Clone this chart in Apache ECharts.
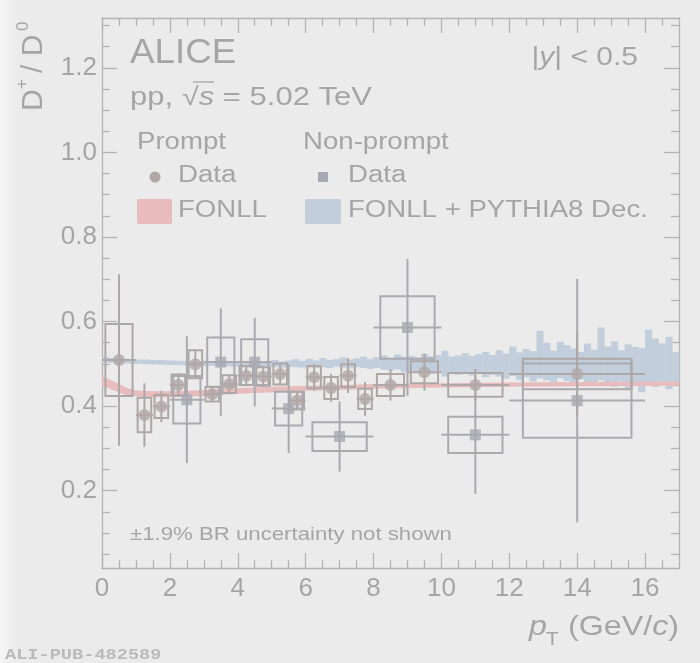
<!DOCTYPE html>
<html><head><meta charset="utf-8">
<script src="https://cdn.jsdelivr.net/npm/echarts@6/dist/echarts.min.js"></script>
<style>html,body{margin:0;padding:0;background:#ebebeb;}#c{width:700px;height:663px;}</style>
</head><body><div id="c"></div>
<script>
// ---------------- data ----------------
const X_MIN = 0, X_MAX = 17, Y_MIN = 0.017, Y_MAX = 1.318;
const xTickLabels = [0, 2, 4, 6, 8, 10, 12, 14, 16];
const yTickLabels = [0.2, 0.4, 0.6, 0.8, 1.0, 1.2];

// Prompt D+/D0
const promptBinLo = [0, 1, 1.5, 2, 2.5, 3, 3.5, 4, 4.5, 5, 5.5, 6, 6.5, 7, 7.5, 8, 9, 10, 12];
const promptBinHi = [1, 1.5, 2, 2.5, 3, 3.5, 4, 4.5, 5, 5.5, 6, 6.5, 7, 7.5, 8, 9, 10, 12, 16];
const promptVal  = [0.509, 0.379, 0.399, 0.450, 0.499, 0.428, 0.452, 0.472, 0.470, 0.476, 0.413, 0.468, 0.443, 0.472, 0.417, 0.450, 0.480, 0.450, 0.476];
const promptStat = [0.203, 0.075, 0.037, 0.028, 0.033, 0.018, 0.023, 0.025, 0.025, 0.026, 0.022, 0.032, 0.033, 0.041, 0.040, 0.037, 0.044, 0.038, 0.100];
const promptSyst = [0.085, 0.041, 0.027, 0.025, 0.033, 0.017, 0.021, 0.022, 0.022, 0.025, 0.021, 0.026, 0.026, 0.027, 0.024, 0.026, 0.026, 0.028, 0.036];

// Non-prompt D+/D0
const npBinLo = [2, 3, 4, 5, 6, 8, 10, 12];
const npBinHi = [3, 4, 5, 6, 8, 10, 12, 16];
const npVal  = [0.415, 0.504, 0.504, 0.394, 0.328, 0.586, 0.332, 0.413];
const npStat = [0.150, 0.127, 0.105, 0.105, 0.083, 0.162, 0.140, 0.288];
const npSyst = [0.056, 0.058, 0.054, 0.040, 0.034, 0.074, 0.043, 0.088];

// FONLL prompt band
const fonllX  = [0, 0.25, 0.5, 0.75, 1.0, 1.5, 2, 3, 4, 5, 6, 7, 8, 10, 12, 14, 17];
const fonllHi = [0.470, 0.462, 0.452, 0.442, 0.437, 0.435, 0.435, 0.438, 0.443, 0.446, 0.448, 0.450, 0.452, 0.454, 0.456, 0.457, 0.458];
const fonllLo = [0.448, 0.440, 0.432, 0.425, 0.423, 0.421, 0.421, 0.424, 0.429, 0.433, 0.436, 0.438, 0.441, 0.444, 0.446, 0.447, 0.448];

// FONLL + PYTHIA8 decayer non-prompt band (0.2 GeV/c bins from 0 to 17)
const npBandBinWidth = 0.2;
const npBandHi = [0.516,0.514,0.512,0.512,0.511,0.510,0.510,0.509,0.509,0.508,
  0.508,0.507,0.507,0.506,0.506,0.507,0.506,0.505,0.506,0.505,
  0.507,0.506,0.508,0.505,0.507,0.509,0.506,0.508,0.511,0.507,
  0.512,0.508,0.514,0.509,0.511,0.515,0.510,0.513,0.517,0.511,
  0.516,0.520,0.514,0.522,0.517,0.519,0.515,0.524,0.518,0.521,
  0.531,0.517,0.520,0.525,0.519,0.523,0.528,0.521,0.532,0.524,
  0.541,0.527,0.535,0.530,0.578,0.550,0.531,0.552,0.544,0.536,
  0.528,0.548,0.533,0.586,0.541,0.553,0.532,0.546,0.540,0.537,
  0.581,0.560,0.548,0.564,0.528];
const npBandLo = [0.503,0.502,0.501,0.501,0.500,0.500,0.499,0.499,0.498,0.498,
  0.497,0.497,0.496,0.496,0.495,0.495,0.495,0.494,0.494,0.493,
  0.494,0.493,0.493,0.492,0.493,0.492,0.491,0.493,0.492,0.491,
  0.493,0.491,0.492,0.490,0.493,0.491,0.489,0.492,0.490,0.488,
  0.490,0.486,0.484,0.487,0.480,0.483,0.478,0.482,0.476,0.481,
  0.470,0.478,0.474,0.480,0.472,0.476,0.468,0.474,0.470,0.465,
  0.471,0.462,0.468,0.458,0.466,0.461,0.455,0.466,0.459,0.452,
  0.463,0.457,0.449,0.461,0.454,0.446,0.458,0.439,0.451,0.433,
  0.455,0.445,0.458,0.440,0.452];

// ---------------- styles ----------------
const FRAME = '#b3b3b3';
const TXT = '#a5a5a5';
const FONT = '"Liberation Sans", Arial, Helvetica, sans-serif';
const C_PROMPT = '#b2a7a7';
const C_NP = '#a8a8b2';
const C_PROMPT_LINE = '#aea7a8';
const C_NP_LINE = '#aaaab1';
const C_RED = '#e8bcbc';
const C_BLUE = '#c2cedb';
const SX = 1.2;

const xMinorTicks = [];
for (let k = 1; k * 0.5 < X_MAX; k++) if (k % 4) xMinorTicks.push(k * 0.5);
const yMinorTicks = [];
for (let k = 1; k * 0.05 < Y_MAX; k++) if (k % 4) yMinorTicks.push(+(k * 0.05).toFixed(2));

function xa(pos, ticks, len, showLabel, showLine) {
  return {type: 'value', min: X_MIN, max: X_MAX, position: pos, gridIndex: 0,
    axisLine: {show: showLine, onZero: false, lineStyle: {color: FRAME, width: 1.3}},
    axisTick: {show: true, inside: true, length: len, customValues: ticks, lineStyle: {color: FRAME, width: 1.3}},
    axisLabel: {show: showLabel, customValues: ticks, color: TXT, fontSize: 26, fontFamily: FONT, margin: 8},
    splitLine: {show: false}};
}
function ya(pos, ticks, len, showLabel, showLine) {
  return {type: 'value', min: Y_MIN, max: Y_MAX, position: pos, gridIndex: 0,
    axisLine: {show: showLine, onZero: false, lineStyle: {color: FRAME, width: 1.3}},
    axisTick: {show: true, inside: true, length: len, customValues: ticks, lineStyle: {color: FRAME, width: 1.3}},
    axisLabel: {show: showLabel, customValues: ticks, color: TXT, fontSize: 26, fontFamily: FONT, margin: 5,
      formatter: v => v.toFixed(1)},
    splitLine: {show: false}};
}

// ---------------- series data ----------------
const promptPts = promptVal.map((v, i) => [(promptBinLo[i] + promptBinHi[i]) / 2, v]);
const npPts = npVal.map((v, i) => [(npBinLo[i] + npBinHi[i]) / 2, v]);
const promptBoxes = promptVal.map((v, i) => [(promptBinLo[i] + promptBinHi[i]) / 2, v, 0.4 * (promptBinHi[i] - promptBinLo[i]), promptSyst[i]]);
const npBoxes = npVal.map((v, i) => [(npBinLo[i] + npBinHi[i]) / 2, v, 0.4 * (npBinHi[i] - npBinLo[i]), npSyst[i]]);
const promptErr = promptVal.map((v, i) => [(promptBinLo[i] + promptBinHi[i]) / 2, v, promptBinLo[i], promptBinHi[i], promptStat[i]]);
const npErr = npVal.map((v, i) => [(npBinLo[i] + npBinHi[i]) / 2, v, npBinLo[i], npBinHi[i], npStat[i]]);
const bandBins = npBandHi.map((h, i) => [i * npBandBinWidth, (i + 1) * npBandBinWidth, npBandLo[i], h]);
const fonllPts = fonllX.map((x, i) => [x, fonllLo[i], fonllHi[i]]);

function boxRender(color) {
  return function (params, api) {
    const xc = api.value(0), y = api.value(1), hw = api.value(2), s = api.value(3);
    const p1 = api.coord([xc - hw, y + s]);
    const p2 = api.coord([xc + hw, y - s]);
    return {type: 'rect', shape: {x: p1[0], y: p1[1], width: p2[0] - p1[0], height: p2[1] - p1[1]},
      style: {fill: 'none', stroke: color, lineWidth: 2}};
  };
}
function errRender(color) {
  return function (params, api) {
    const xc = api.value(0), y = api.value(1), xl = api.value(2), xh = api.value(3), e = api.value(4);
    const a = api.coord([xc, y - e]), b = api.coord([xc, y + e]);
    const l = api.coord([xl, y]), r = api.coord([xh, y]);
    return {type: 'group', children: [
      {type: 'line', shape: {x1: a[0], y1: a[1], x2: b[0], y2: b[1]}, style: {stroke: color, lineWidth: 2}},
      {type: 'line', shape: {x1: l[0], y1: l[1], x2: r[0], y2: r[1]}, style: {stroke: color, lineWidth: 2}}
    ]};
  };
}
function bandRender(params, api) {
  const p1 = api.coord([api.value(0), api.value(3)]);
  const p2 = api.coord([api.value(1), api.value(2)]);
  return {type: 'rect', shape: {x: p1[0], y: p1[1], width: p2[0] - p1[0] + 0.3, height: p2[1] - p1[1]},
    style: {fill: C_BLUE}};
}
function fonllRender(params, api) {
  const i = params.dataIndexInside;
  if (i >= fonllPts.length - 1) return null;
  const x0 = api.value(0, i), l0 = api.value(1, i), h0 = api.value(2, i);
  const x1 = api.value(0, i + 1), l1 = api.value(1, i + 1), h1 = api.value(2, i + 1);
  const a = api.coord([x0, h0]), b = api.coord([x1, h1]), c = api.coord([x1, l1]), d = api.coord([x0, l0]);
  return {type: 'polygon', shape: {points: [[a[0], a[1]], [b[0] + 0.4, b[1]], [c[0] + 0.4, c[1]], [d[0], d[1]]]},
    style: {fill: C_RED}};
}

function txt(x, y, text, size, opts) {
  opts = opts || {};
  return {type: 'text', x: x, y: y, scaleX: opts.sx || 1, rotation: opts.rot || 0, z: 100,
    style: {text: text, fill: opts.fill || TXT, fontSize: size, fontFamily: opts.family || FONT,
      fontStyle: opts.italic ? 'italic' : 'normal', fontWeight: opts.bold ? 'bold' : 'normal',
      align: opts.align || 'left', verticalAlign: opts.va || 'middle'}};
}

const chart = echarts.init(document.getElementById('c'), null, {renderer: 'canvas'});
chart.setOption({
  animation: false,
  backgroundColor: '#ebebeb',
  grid: {left: 102, top: 18, right: 21, bottom: 95, containLabel: false},
  xAxis: [
    xa('bottom', xTickLabels, 15, true, true),
    xa('bottom', xMinorTicks, 8, false, false),
    xa('top', xTickLabels, 15, false, true),
    xa('top', xMinorTicks, 8, false, false)
  ],
  yAxis: [
    ya('left', yTickLabels, 15, true, true),
    ya('left', yMinorTicks, 8, false, false),
    ya('right', yTickLabels, 15, false, true),
    ya('right', yMinorTicks, 8, false, false)
  ],
  series: [
    {type: 'custom', name: 'FONLL + PYTHIA8 Dec.', renderItem: bandRender, data: bandBins,
      encode: {x: [0, 1], y: [2, 3]}, z: 1, silent: true},
    {type: 'custom', name: 'FONLL', renderItem: fonllRender, data: fonllPts,
      encode: {x: 0, y: [1, 2]}, z: 2, silent: true},
    {type: 'custom', name: 'np syst', renderItem: boxRender(C_NP_LINE), data: npBoxes, z: 3, silent: true},
    {type: 'custom', name: 'prompt syst', renderItem: boxRender(C_PROMPT_LINE), data: promptBoxes, z: 3, silent: true},
    {type: 'custom', name: 'np stat', renderItem: errRender(C_NP_LINE), data: npErr, z: 4, silent: true},
    {type: 'custom', name: 'prompt stat', renderItem: errRender(C_PROMPT_LINE), data: promptErr, z: 4, silent: true},
    {type: 'scatter', name: 'Non-prompt', data: npPts, symbol: 'rect', symbolSize: 11,
      itemStyle: {color: C_NP}, z: 5, silent: true},
    {type: 'scatter', name: 'Prompt', data: promptPts, symbol: 'circle', symbolSize: 12,
      itemStyle: {color: C_PROMPT}, z: 5, silent: true}
  ],
  graphic: {elements: [
    {type: 'rect', shape: {x: 0, y: 0, width: 18, height: 663}, z: -1,
      style: {fill: new echarts.graphic.LinearGradient(0, 0, 1, 0, [{offset: 0, color: '#f6f6f6'}, {offset: 1, color: '#ebebeb'}])}},
    txt(130, 53, 'ALICE', 35, {sx: 1.05}),
    {type: 'text', x: 130, y: 98, scaleX: 1.24, z: 100,
      style: {text: '{n|pp, }{n|√}{i|s}{n| = 5.02 TeV}', verticalAlign: 'middle', align: 'left',
        rich: {n: {fill: TXT, fontSize: 25, fontFamily: FONT}, i: {fill: TXT, fontSize: 25, fontFamily: FONT, fontStyle: 'italic'}}}},
    {type: 'line', shape: {x1: 193, y1: 82, x2: 214, y2: 82}, style: {stroke: TXT, lineWidth: 1.3}, z: 100},
    {type: 'text', x: 638, y: 58, scaleX: SX, z: 100,
      style: {text: '{n||}{i|y}{n|| < 0.5}', verticalAlign: 'middle', align: 'right',
        rich: {n: {fill: TXT, fontSize: 25, fontFamily: FONT}, i: {fill: TXT, fontSize: 25, fontFamily: FONT, fontStyle: 'italic'}}}},
    txt(137, 143, 'Prompt', 23, {sx: SX}),
    txt(303, 143, 'Non-prompt', 23, {sx: SX}),
    {type: 'circle', shape: {cx: 155, cy: 177, r: 5.5}, style: {fill: C_PROMPT}, z: 100},
    txt(178, 176, 'Data', 23, {sx: SX}),
    {type: 'rect', shape: {x: 318, y: 172, width: 10, height: 10}, style: {fill: C_NP}, z: 100},
    txt(348, 176, 'Data', 23, {sx: SX}),
    {type: 'rect', shape: {x: 137, y: 199, width: 35, height: 25, r: 2}, style: {fill: C_RED}, z: 100},
    txt(178, 211, 'FONLL', 23, {sx: SX}),
    {type: 'rect', shape: {x: 305, y: 199, width: 36, height: 25, r: 2}, style: {fill: C_BLUE}, z: 100},
    txt(348, 211, 'FONLL + PYTHIA8 Dec.', 23, {sx: SX}),
    txt(130, 535, '±1.9% BR uncertainty not shown', 18.5, {sx: SX}),
    // y-axis title (rotated)
    {type: 'group', x: 49, y: 111, rotation: Math.PI / 2, z: 100, children: [
      {type: 'text', x: 0, y: 0, style: {text: 'D', fill: TXT, fontSize: 30, fontFamily: FONT, align: 'left', verticalAlign: 'bottom'}},
      {type: 'text', x: 22, y: -27, style: {text: '+', fill: TXT, fontSize: 17, fontFamily: FONT, align: 'left', verticalAlign: 'middle'}},
      {type: 'text', x: 38, y: 0, style: {text: '/ D', fill: TXT, fontSize: 30, fontFamily: FONT, align: 'left', verticalAlign: 'bottom'}},
      {type: 'text', x: 80, y: -26, style: {text: '0', fill: TXT, fontSize: 17, fontFamily: FONT, align: 'left', verticalAlign: 'middle'}}
    ]},
    // x-axis title
    txt(529, 627, 'p', 28, {italic: true, sx: 1.15}),
    txt(546, 640, 'T', 18, {sx: 1.15}),
    {type: 'text', x: 679, y: 627, scaleX: 1.15, z: 100,
      style: {text: '{n|(GeV/}{i|c}{n|)}', verticalAlign: 'middle', align: 'right',
        rich: {n: {fill: TXT, fontSize: 28, fontFamily: FONT}, i: {fill: TXT, fontSize: 28, fontFamily: FONT, fontStyle: 'italic'}}}},
    txt(5, 655, 'ALI-PUB-482589', 14, {sx: 1.33, family: '"Liberation Mono", "DejaVu Sans Mono", monospace', bold: true, fill: '#bababa'})
  ]}
});
</script>
</body></html>
